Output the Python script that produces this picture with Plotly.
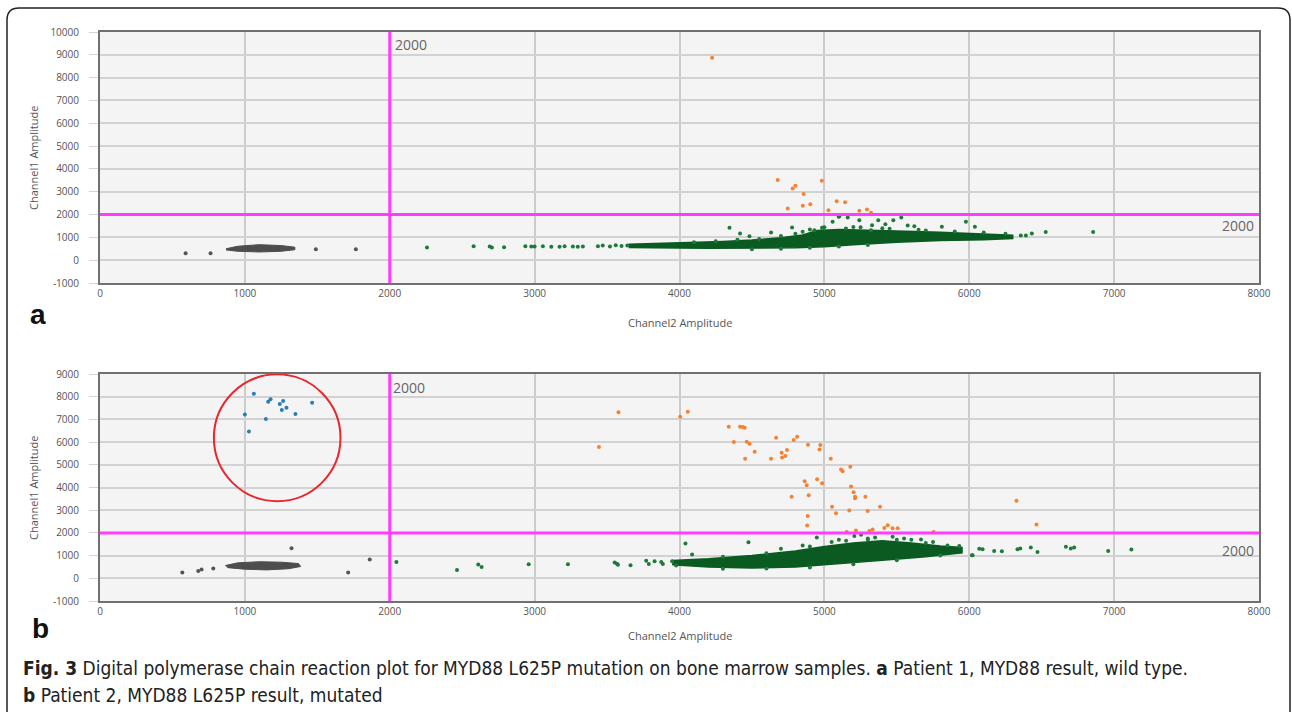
import plotly.graph_objects as go

W, H = 1292, 712

# ---------------- Panel a data ----------------
a_neg_x = [591, 763, 1490, 1766]
a_neg_y = [307, 300, 483, 483]
a_neg_core_x = [870, 950, 1100, 1250, 1345, 1345, 1250, 1100, 950, 870]
a_neg_core_y = [500, 610, 680, 640, 570, 460, 390, 360, 390, 450]

a_wt_x = [2257, 2579, 2690, 2705, 2789, 2936, 2977, 3000, 3057, 3115, 3172, 3207, 3264, 3298, 3333,
          3437, 3470, 3520, 3560, 3600, 3640, 4345, 4418, 4483, 4632, 4777, 4931, 4988, 5057, 5099,
          5241, 5329, 5103, 5161, 5372, 5421, 5476, 5531, 5575, 5621, 5811, 5977, 6039, 4984, 5322,
          5149, 6356, 6391, 6432, 6528, 6855, 4850, 4900, 5200, 5400, 5700,
          4100, 4250, 4400, 4550, 4700, 4800, 5000, 5250, 5450, 5650, 5900, 6100, 6250,
          4500, 4700, 4900, 5100, 5300]
a_wt_y = [557, 614, 600, 560, 570, 614, 600, 600, 614, 590, 590, 614, 600, 590, 600,
          610, 640, 600, 650, 620, 640, 1420, 1170, 1053, 1215, 1434, 1316, 1420, 1680, 1900,
          1754, 1535, 1930, 1870, 1754, 1579, 1754, 1870, 1520, 1490, 1460, 1680, 1460, 1420, 1316,
          1390, 1083, 1083, 1170, 1240, 1240, 1250, 1350, 1450, 1400, 1300,
          790, 830, 900, 930, 1060, 1160, 1440, 1440, 1380, 1330, 1260, 1210, 1160,
          480, 500, 540, 600, 660]
a_wt_core_x = [3650, 4000, 4300, 4500, 4700, 4850, 4950, 5100, 5300, 5500, 5800, 6000, 6200, 6300,
               6300, 6100, 5800, 5500, 5200, 5000, 4800, 4500, 4200, 4000, 3650]
a_wt_core_y = [700, 760, 820, 880, 980, 1100, 1300, 1350, 1330, 1280, 1220, 1180, 1140, 1090,
               950, 900, 860, 790, 680, 590, 540, 520, 520, 530, 560]

a_mut_x = [4225, 4678, 4781, 4800, 4857, 4747, 4851, 4903, 4982, 5028, 5085, 5143, 5241, 5294, 5322]
a_mut_y = [8873, 3509, 3145, 3260, 2895, 2268, 2380, 2456, 3478, 2193, 2588, 2544, 2162, 2222, 2075]

# ---------------- Panel b data ----------------
b_neg_x = [568, 678, 701, 782, 1322, 1713, 1862]
b_neg_y = [250, 323, 384, 430, 1325, 250, 826]
b_neg_core_x = [865, 950, 1100, 1250, 1370, 1385, 1300, 1150, 1000, 880]
b_neg_core_y = [560, 680, 730, 710, 650, 520, 420, 370, 400, 470]

b_dbl_x = [1062, 1000, 1028, 1145, 1161, 1177, 1241, 1264, 1255, 1287, 1349, 1464]
b_dbl_y = [8132, 7221, 6472, 7015, 7778, 7884, 7677, 7809, 7412, 7514, 7235, 7734]

b_wt_x = [2046, 2464, 2611, 2634, 2959, 3230, 3552, 3568, 3575, 3662, 3770, 3788, 3828, 3874, 3885,
          3949, 3977, 4041, 4087, 4476, 4948, 5207, 5253, 5471, 5667, 5931, 6092, 6172, 6225, 6333,
          6352, 6425, 6471, 6023, 6667, 6701, 6724, 6959, 7119, 6069, 6018, 5050, 5350, 5550, 5750,
          5100, 5300, 5600, 4700, 4850,
          4300, 4600, 4900, 5150, 5300, 5500, 5700, 5850,
          4300, 4600, 4900, 5200, 5500, 5800]
b_wt_y = [720, 367, 603, 500, 617, 617, 700, 640, 600, 573, 770, 634, 750, 720, 634,
          750, 560, 1530, 1047, 1589, 1795, 1868, 1914, 1830, 1710, 1425, 1280, 1205, 1192, 1280,
          1310, 1355, 1160, 1016, 1385, 1310, 1355, 1205, 1265, 1300, 1016, 1600, 1800, 1750, 1600,
          1700, 1700, 1700, 1300, 1450,
          950, 1100, 1400, 1650, 1750, 1700, 1550, 1450,
          420, 430, 480, 620, 800, 1000]
b_wt_core_x = [3950, 4200, 4500, 4800, 5000, 5200, 5400, 5600, 5800, 5950,
               5950, 5700, 5400, 5100, 4800, 4500, 4200, 3950]
b_wt_core_y = [780, 860, 1000, 1200, 1400, 1560, 1650, 1560, 1420, 1360,
               1120, 950, 800, 650, 500, 450, 500, 600]

b_mut_x = [3579, 3444, 4005, 4057, 4340, 4418, 4437, 4450, 4375, 4464, 4483, 4519, 4453, 4632, 4667,
           4705, 4742, 4708, 4731, 4788, 4812, 4887, 4966, 4972, 5044, 5115, 5126, 5179, 5184, 5202,
           5212, 5212, 5283, 4864, 4878, 4950, 4984, 4774, 4892, 5053, 5080, 5172, 5299, 5384, 4885,
           4881, 5154, 5218, 5310, 5333, 5414, 5437, 5471, 5506, 5754, 6326, 6464]
b_mut_y = [7310, 5780, 7118, 7339, 6676, 6676, 6662, 6633, 6000, 6015, 5927, 5573, 5264, 5264, 6190,
           5530, 5650, 5326, 5385, 6088, 6235, 5882, 5676, 5868, 5264, 4795, 4720, 4912, 4045, 3795,
           3588, 3530, 3588, 4280, 4104, 4368, 4192, 3588, 3662, 3147, 2868, 2986, 2970, 3147, 2750,
           2326, 2044, 2106, 2088, 2150, 2220, 2340, 2205, 2205, 2044, 3412, 2370]

x_ticks = [0, 1000, 2000, 3000, 4000, 5000, 6000, 7000, 8000]
a_y_ticks = [-1000, 0, 1000, 2000, 3000, 4000, 5000, 6000, 7000, 8000, 9000, 10000]
b_y_ticks = [-1000, 0, 1000, 2000, 3000, 4000, 5000, 6000, 7000, 8000, 9000]

threshold = 2000
circle_center = (1223, 6190)
circle_rx, circle_ry = 437, 2794

GREEN_CORE = "#0b5a22"
GREEN = "#1d7a3a"
GRAY = "#555555"
ORANGE = "#f58233"
BLUE = "#2b7db5"
MAGENTA = "#ff3dff"

fig = go.Figure()

def add_panel(xa, ya, neg_core, neg, wt_core, wt, mut, extra=None):
    fig.add_trace(go.Scatter(x=neg_core[0], y=neg_core[1], mode="lines", fill="toself",
                             fillcolor="#4d4d4d", line=dict(color="#4d4d4d", width=1),
                             xaxis=xa, yaxis=ya, hoverinfo="skip"))
    fig.add_trace(go.Scatter(x=wt_core[0], y=wt_core[1], mode="lines", fill="toself",
                             fillcolor=GREEN_CORE, line=dict(color=GREEN_CORE, width=1.5),
                             xaxis=xa, yaxis=ya, hoverinfo="skip"))
    fig.add_trace(go.Scatter(x=neg[0], y=neg[1], mode="markers",
                             marker=dict(color=GRAY, size=4), xaxis=xa, yaxis=ya))
    fig.add_trace(go.Scatter(x=wt[0], y=wt[1], mode="markers",
                             marker=dict(color=GREEN, size=4), xaxis=xa, yaxis=ya))
    fig.add_trace(go.Scatter(x=mut[0], y=mut[1], mode="markers",
                             marker=dict(color=ORANGE, size=4), xaxis=xa, yaxis=ya))
    if extra is not None:
        fig.add_trace(go.Scatter(x=extra[0], y=extra[1], mode="markers",
                                 marker=dict(color=BLUE, size=4), xaxis=xa, yaxis=ya))

add_panel("x", "y", (a_neg_core_x, a_neg_core_y), (a_neg_x, a_neg_y),
          (a_wt_core_x, a_wt_core_y), (a_wt_x, a_wt_y), (a_mut_x, a_mut_y))
add_panel("x2", "y2", (b_neg_core_x, b_neg_core_y), (b_neg_x, b_neg_y),
          (b_wt_core_x, b_wt_core_y), (b_wt_x, b_wt_y), (b_mut_x, b_mut_y),
          extra=(b_dbl_x, b_dbl_y))

def px(v):
    return v / W

def py(v):
    return 1 - v / H

tickfont = dict(family="Open Sans", size=10, color="#555555")
common_x = dict(range=[0, 8000], tickvals=x_ticks, ticktext=[str(v) for v in x_ticks],
                showgrid=True, gridcolor="#cbcbcb", gridwidth=1.5, showline=True, mirror=True,
                linecolor="#707070", linewidth=2, ticks="", zeroline=False,
                tickfont=tickfont, fixedrange=True)
common_y = dict(showgrid=True, gridcolor="#d2d2d2", gridwidth=1.5, showline=True,
                mirror=True, linecolor="#707070", linewidth=2, ticks="outside", ticklen=9,
                tickcolor="#d5d5d5", zeroline=False, tickfont=tickfont, ticklabelstandoff=8,
                fixedrange=True)

fig.update_layout(
    autosize=True, margin=dict(l=0, r=0, t=0, b=0, autoexpand=False),
    paper_bgcolor="white", plot_bgcolor="#f4f4f4", showlegend=False,
    xaxis=dict(common_x, domain=[px(100), px(1259)], anchor="y"),
    yaxis=dict(common_y, domain=[py(283), py(32)], range=[-1000, 10000], anchor="x",
               tickvals=a_y_ticks, ticktext=[str(v) for v in a_y_ticks]),
    xaxis2=dict(common_x, domain=[px(100), px(1259)], anchor="y2"),
    yaxis2=dict(common_y, domain=[py(601), py(374)], range=[-1000, 9000], anchor="x2",
                tickvals=b_y_ticks, ticktext=[str(v) for v in b_y_ticks]),
)

shapes = []
for xr, yr, ymax in (("x", "y", 10000), ("x2", "y2", 9000)):
    shapes.append(dict(type="line", xref=xr, yref=yr, x0=threshold, x1=threshold,
                       y0=-1000, y1=ymax, line=dict(color=MAGENTA, width=3)))
    shapes.append(dict(type="line", xref=xr, yref=yr, x0=0, x1=8000,
                       y0=threshold, y1=threshold, line=dict(color=MAGENTA, width=3)))
shapes.append(dict(type="circle", xref="x2", yref="y2",
                   x0=circle_center[0] - circle_rx, x1=circle_center[0] + circle_rx,
                   y0=circle_center[1] - circle_ry, y1=circle_center[1] + circle_ry,
                   line=dict(color="#e8262e", width=2)))
# outer rounded frame
rx, ry = 12 / W, 12 / H
l, r, t, b = px(7), px(1290), py(8), py(760)
path = (f"M {l},{b} L {l},{t - ry} Q {l},{t} {l + rx},{t} L {r - rx},{t} "
        f"Q {r},{t} {r},{t - ry} L {r},{b}")
shapes.append(dict(type="path", xref="paper", yref="paper", path=path,
                   line=dict(color="#222222", width=1.5)))
fig.update_layout(shapes=shapes)

ann = []
def note(text, x, y, size, color="#555555", xanchor="center", family="Open Sans", angle=0):
    ann.append(dict(text=text, x=px(x), y=py(y), xref="paper", yref="paper", showarrow=False,
                    xanchor=xanchor, yanchor="middle", textangle=angle,
                    font=dict(size=size, color=color, family=family)))

# threshold labels
note("2000", 393, 45, 14, "#666666", xanchor="left")
note("2000", 1256, 226, 14, "#666666", xanchor="right")
note("2000", 391, 387, 14, "#666666", xanchor="left")
note("2000", 1256, 550, 14, "#666666", xanchor="right")
# axis titles
note("Channel2 Amplitude", 680, 322, 11, "#555555")
note("Channel2 Amplitude", 680, 635, 11, "#555555")
note("Channel1 Amplitude", 33, 158, 11, "#555555", angle=-90)
note("Channel1 Amplitude", 33, 488, 11, "#555555", angle=-90)
# panel letters
note("<b>a</b>", 38, 314, 28, "#111111", family="Liberation Sans")
note("<b>b</b>", 40, 628, 28, "#111111", family="Liberation Sans")
# caption
CAP_FONT = "DejaVu Sans Condensed, Roboto"
note("<b>Fig. 3</b> Digital polymerase chain reaction plot for MYD88 L625P mutation on bone marrow "
     "samples. <b>a</b> Patient 1, MYD88 result, wild type.", 21, 668, 19, "#222222",
     xanchor="left", family=CAP_FONT)
note("<b>b</b> Patient 2, MYD88 L625P result, mutated", 21, 695, 19, "#222222",
     xanchor="left", family=CAP_FONT)
fig.update_layout(annotations=ann)

fig.write_html("out.html",
               default_width="100vw", default_height="100vh",
               config={"displayModeBar": False, "responsive": True},
               post_script="document.documentElement.style.margin='0';"
                           "document.body.style.margin='0';"
                           "document.documentElement.style.overflow='hidden';"
                           "document.body.style.overflow='hidden';"
                           "Plotly.Plots.resize(document.getElementById('{plot_id}'));")
